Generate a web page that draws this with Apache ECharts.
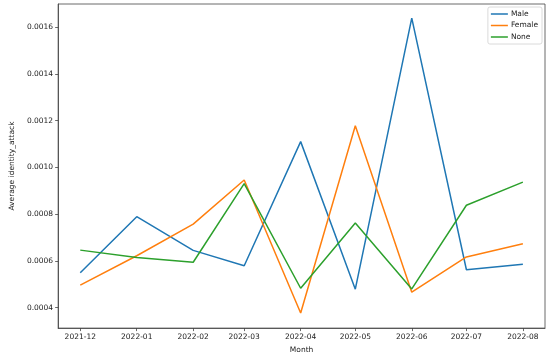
<!DOCTYPE html>
<html>
<head>
<meta charset="utf-8">
<script src="https://cdn.jsdelivr.net/npm/echarts@6/dist/echarts.min.js"></script>
<style>html,body{margin:0;padding:0;background:#fff}#c{width:550px;height:359px}</style>
</head>
<body>
<div id="c"></div>
<script>
var months = ['2021-12','2022-01','2022-02','2022-03','2022-04','2022-05','2022-06','2022-07','2022-08'];
var male   = [0.000549,0.000789,0.000645,0.000579,0.001110,0.000479,0.001638,0.000562,0.000586];
var female = [0.000496,0.000622,0.000757,0.000946,0.000377,0.001178,0.000466,0.000617,0.000673];
var none   = [0.000646,0.000614,0.000594,0.000930,0.000483,0.000762,0.000480,0.000838,0.000937];
var yTicks = [0.0004,0.0006,0.0008,0.0010,0.0012,0.0014,0.0016];
var seriesNames = ['Male','Female','None'];
var colors = ['#1f77b4','#ff7f0e','#2ca02c'];

function dayOf(m){var p=m.split('-');var b=Date.UTC(2021,11,1);return (Date.UTC(+p[0],+p[1]-1,1)-b)/86400000;}
var xs = months.map(dayOf);
var labelMap = {}; xs.forEach(function(d,i){labelMap[d]=months[i];});
var span = xs[xs.length-1]-xs[0];
var font = 'DejaVu Sans';
function pts(arr){return arr.map(function(v,i){return [xs[i],v];});}
var data = [male,female,none];

var chart = echarts.init(document.getElementById('c'),null,{renderer:'canvas'});
chart.setOption({
  animation:false,
  backgroundColor:'#fff',
  grid:{left:47,right:5,top:4,bottom:27,show:true,borderColor:'#444',borderWidth:0.8,containLabel:false},
  legend:{
    right:8,top:7,orient:'vertical',
    data:seriesNames,
    icon:'rect',itemWidth:17,itemHeight:1.5,itemGap:3.5,
    backgroundColor:'#fff',borderColor:'#d0d0d0',borderWidth:0.8,borderRadius:2,
    padding:[3,4,3,3],
    textStyle:{fontFamily:font,fontSize:7.5,color:'#222',padding:[0,0,0,-2]}
  },
  xAxis:{
    type:'value',min:xs[0]-span*0.05,max:xs[xs.length-1]+span*0.05,
    name:'Month',nameLocation:'middle',nameGap:14,
    nameTextStyle:{fontFamily:font,fontSize:7.5,color:'#222'},
    axisLine:{show:true,onZero:false,lineStyle:{color:'#444',width:0.8}},
    axisTick:{show:true,customValues:xs,length:3,lineStyle:{color:'#444',width:0.8}},
    axisLabel:{customValues:xs,margin:5,fontFamily:font,fontSize:7.5,color:'#222',
      formatter:function(v){return labelMap[v]||'';}},
    splitLine:{show:false}
  },
  yAxis:{
    type:'value',min:0.0003125,max:0.0016986,
    name:'Average identity_attack',nameLocation:'middle',nameGap:39,
    nameTextStyle:{fontFamily:font,fontSize:7.5,color:'#222'},
    axisLine:{show:true,onZero:false,lineStyle:{color:'#444',width:0.8}},
    axisTick:{show:true,customValues:yTicks,length:3,lineStyle:{color:'#444',width:0.8}},
    axisLabel:{customValues:yTicks,margin:5,fontFamily:font,fontSize:7.5,color:'#222',
      formatter:function(v){return v.toFixed(4);}},
    splitLine:{show:false}
  },
  series:seriesNames.map(function(n,i){return {
    name:n,type:'line',data:pts(data[i]),showSymbol:false,symbol:'none',
    lineStyle:{color:colors[i],width:1.5},itemStyle:{color:colors[i]},z:2+i
  };})
});
</script>
</body>
</html>
